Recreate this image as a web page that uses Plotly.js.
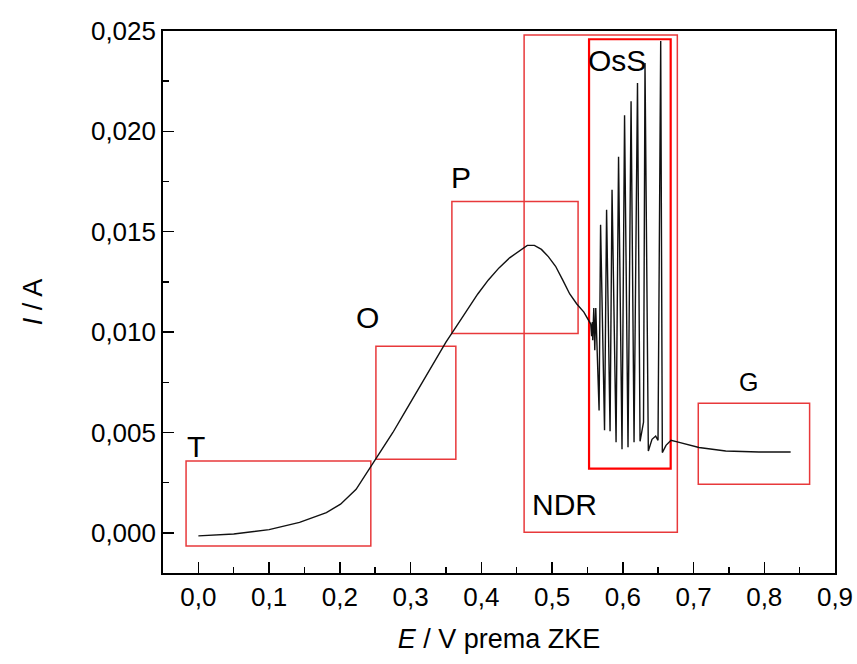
<!DOCTYPE html>
<html>
<head>
<meta charset="utf-8">
<script src="https://cdn.plot.ly/plotly-3.0.1.min.js"></script>
<style>body{margin:0;padding:0;background:#fff}#chart{width:857px;height:664px}</style>
</head>
<body>
<div id="chart"></div>
<script>
// Potential E (V vs. ZKE) and current I (A)
const E = [
  0.000, 0.050, 0.100, 0.143, 0.181, 0.201, 0.223, 0.244, 0.251, 0.26, 0.275, 0.29, 0.305, 0.32, 0.335,
  0.35, 0.365, 0.38, 0.395, 0.41, 0.425, 0.44, 0.455, 0.465, 0.475, 0.485, 0.495, 0.505,
  0.515, 0.525, 0.535, 0.545, 0.5547,
  0.556, 0.557, 0.5575, 0.559, 0.5604, 0.5618,
  0.5665, 0.5686, 0.5742, 0.5771, 0.5820, 0.5848, 0.5905, 0.5940, 0.5989, 0.6025,
  0.6074, 0.6117, 0.6159, 0.6208, 0.6244, 0.6293, 0.6314, 0.6361, 0.6413, 0.6465,
  0.6498, 0.6536, 0.6559, 0.6611, 0.6682, 0.677, 0.7077, 0.7455, 0.7925, 0.8373
];
const I = [
  -0.00015, -0.00006, 0.00016, 0.00052, 0.00101, 0.00143, 0.00217, 0.0033, 0.00367, 0.0042, 0.0050, 0.0059, 0.0068, 0.0077, 0.0086,
  0.0095, 0.0103, 0.0111, 0.0119, 0.0126, 0.0132, 0.0137, 0.0141, 0.01432, 0.01432, 0.01412, 0.01375, 0.01328,
  0.0126, 0.0119, 0.0114, 0.0110, 0.0104,
  0.0098, 0.0105, 0.0096, 0.0112, 0.0091, 0.0112,
  0.0061, 0.01535, 0.00511, 0.0161, 0.00506, 0.01709, 0.00451, 0.01873, 0.00416, 0.0208,
  0.00426, 0.0215, 0.00451, 0.02241, 0.00456, 0.00551, 0.02341, 0.00408, 0.00466, 0.00482,
  0.00461, 0.0245, 0.0040, 0.00436, 0.00461, 0.00453, 0.00425, 0.00408, 0.00403, 0.00403
];

// Marked regions
const regionNames = ["T", "O", "P", "NDR", "OsS", "G"];
const regionE0 = [-0.0174, 0.251, 0.3584, 0.4605, 0.5523, 0.7067];
const regionE1 = [0.2438, 0.364, 0.5368, 0.6771, 0.6677, 0.8641];
const regionI0 = [-0.00065, 0.00367, 0.00993, 0.00003, 0.0032, 0.00242];
const regionI1 = [0.00358, 0.0093, 0.01651, 0.0248, 0.02459, 0.00645];
// label anchor points
const labelE = [-0.004, 0.2387, 0.3715, 0.517, 0.592, 0.778];
const labelI = [0.0043, 0.01071, 0.01768, 0.00143, 0.02355, 0.0075];

const xTicks = [0, 0.1, 0.2, 0.3, 0.4, 0.5, 0.6, 0.7, 0.8, 0.9];
const yTicks = [0, 0.005, 0.010, 0.015, 0.020, 0.025];

const shapes = regionNames.map((n, k) => ({
  type: 'rect', xref: 'x', yref: 'y',
  x0: regionE0[k], x1: regionE1[k], y0: regionI0[k], y1: regionI1[k],
  line: {color: n === 'OsS' ? '#ff0000' : '#e8393b', width: n === 'OsS' ? 2.2 : 1.5},
  fillcolor: 'rgba(0,0,0,0)', layer: 'below'
}));

const annotations = regionNames.map((n, k) => ({
  x: labelE[k], y: labelI[k], xref: 'x', yref: 'y', text: n, showarrow: false,
  font: {family: 'Liberation Sans, Arial, sans-serif', size: n === 'G' ? 25 : 30, color: '#000'}
}));

const trace = {
  x: E, y: I, type: 'scatter', mode: 'lines',
  line: {color: '#111', width: 1.4}, hoverinfo: 'skip'
};

const font = {family: 'Liberation Sans, Arial, sans-serif', color: '#000'};
const layout = {
  width: 857, height: 664,
  margin: {l: 163, r: 22, t: 31, b: 91},
  paper_bgcolor: '#fff', plot_bgcolor: '#fff',
  separators: ',.',
  font: font,
  showlegend: false,
  xaxis: {
    range: [-0.05, 0.9], tickvals: xTicks, tickformat: '.1f',
    ticks: 'inside', ticklen: 11, tickwidth: 1.5, tickcolor: '#000',
    minor: {dtick: 0.05, tick0: 0, ticks: 'inside', ticklen: 6, tickwidth: 1.5, tickcolor: '#000'},
    showline: true, linecolor: '#000', linewidth: 1.8, mirror: true,
    showgrid: false, zeroline: false,
    tickfont: {family: font.family, size: 26, color: '#000'},
    title: {text: '<i>E</i> / V prema ZKE', font: {family: font.family, size: 27, color: '#000'}, standoff: 18}
  },
  yaxis: {
    range: [-0.002, 0.025], tickvals: yTicks, tickformat: '.3f',
    ticks: 'inside', ticklen: 11, tickwidth: 1.5, tickcolor: '#000',
    minor: {dtick: 0.0025, tick0: 0, ticks: 'inside', ticklen: 6, tickwidth: 1.5, tickcolor: '#000'},
    showline: true, linecolor: '#000', linewidth: 1.8, mirror: true,
    showgrid: false, zeroline: false,
    tickfont: {family: font.family, size: 26, color: '#000'},
    title: {text: '<i>I</i> / A', font: {family: font.family, size: 27, color: '#000'}, standoff: 40}
  },
  shapes: shapes,
  annotations: annotations
};

Plotly.newPlot('chart', [trace], layout, {displayModeBar: false, staticPlot: true});
</script>
</body>
</html>
